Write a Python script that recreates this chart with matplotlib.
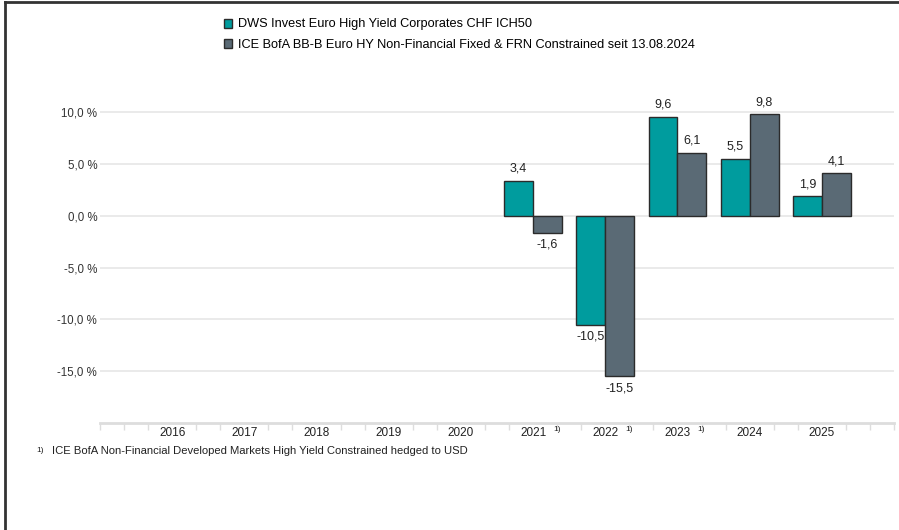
import numpy as np
import matplotlib.pyplot as plt
from matplotlib.lines import Line2D
from matplotlib.patches import Patch

plt.rcParams['font.family'] = ['Liberation Sans', 'DejaVu Sans']

years = ['2016', '2017', '2018', '2019', '2020', '2021', '2022', '2023', '2024', '2025']
footnoted = ['2021', '2022', '2023']
fund = [np.nan, np.nan, np.nan, np.nan, np.nan, 3.4, -10.5, 9.6, 5.5, 1.9]
bench = [np.nan, np.nan, np.nan, np.nan, np.nan, -1.6, -15.5, 6.1, 9.8, 4.1]
fund_name = 'DWS Invest Euro High Yield Corporates CHF ICH50'
bench_name = 'ICE BofA BB-B Euro HY Non-Financial Fixed & FRN Constrained seit 13.08.2024'
footnote = 'ICE BofA Non-Financial Developed Markets High Yield Constrained hedged to USD'

teal = '#009c9e'
slate = '#5a6a75'
edge = '#2b2b2b'

fig = plt.figure(figsize=(8.99, 5.30), dpi=100)
ax = fig.add_axes([100/899, 1-423/530, 794/899, (423-71)/530])

x = np.arange(len(years))
w = 0.4
ax.bar(x - w/2, fund, w, color=teal, edgecolor=edge, linewidth=1, zorder=3)
ax.bar(x + w/2, bench, w, color=slate, edgecolor=edge, linewidth=1, zorder=3)

def lab(v):
    return ('%.1f' % v).replace('.', ',')

for xs, vals in [(x - w/2, fund), (x + w/2, bench)]:
    for xi, v in zip(xs, vals):
        if np.isnan(v):
            continue
        if v >= 0:
            ax.text(xi, v + 0.6, lab(v), ha='center', va='bottom', fontsize=9, color='#222222')
        else:
            ax.text(xi, v - 0.6, lab(v), ha='center', va='top', fontsize=9, color='#222222')

ax.set_xlim(-1, 10)
ax.set_ylim(-20, 14)
ax.set_yticks([-15, -10, -5, 0, 5, 10])
ax.set_yticklabels([('%.1f %%' % t).replace('.', ',') for t in [-15, -10, -5, 0, 5, 10]],
                   fontsize=8.3, color='#333333')
ax.tick_params(axis='y', length=0, pad=2)
ax.grid(axis='y', color='#e6e6e6', linewidth=1.2, zorder=0)

ax.set_xticks(x)
ax.set_xticklabels(years, fontsize=8.5, color='#222222')
ax.set_xticks(np.arange(-1, 10.01, 1/3), minor=True)
ax.tick_params(axis='x', which='major', length=0, pad=3)
ax.tick_params(axis='x', which='minor', length=5, color='#dddddd', width=1)
for yr in footnoted:
    i = years.index(yr)
    ax.text(i + 0.33, -20.25, '1)', fontsize=6, ha='center', va='top', color='#222222')

for s in ['top', 'right', 'left']:
    ax.spines[s].set_visible(False)
ax.spines['bottom'].set_color('#dddddd')
ax.spines['bottom'].set_linewidth(2)

handles = [Patch(facecolor=teal, edgecolor=edge, linewidth=1),
           Patch(facecolor=slate, edgecolor=edge, linewidth=1)]
fig.legend(handles, [fund_name, bench_name], loc='upper left',
           bbox_to_anchor=(212/899, 1-7/530), frameon=False, fontsize=9.2,
           handlelength=0.7, handleheight=0.7, handletextpad=0.47, labelspacing=0.65)

fig.text(36/899, 1-451/530, '1)', fontsize=6, va='center', color='#222222')
fig.text(52/899, 1-451/530, footnote, fontsize=8.1, va='center', color='#222222')

# frame lines
fig.add_artist(Line2D([5/899, 5/899], [0, 1-2/530], transform=fig.transFigure, color='#333333', linewidth=2))
fig.add_artist(Line2D([5/899, 1], [1-2/530, 1-2/530], transform=fig.transFigure, color='#333333', linewidth=2))

fig.savefig('out.png', dpi=100)
